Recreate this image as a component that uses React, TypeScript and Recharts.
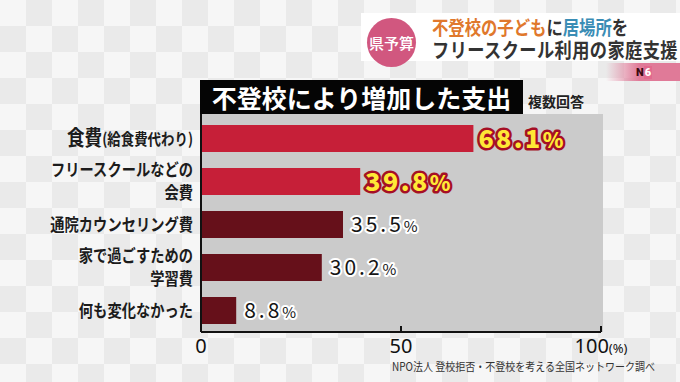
import { BarChart, Bar, XAxis, YAxis, Cell, LabelList } from 'recharts'

const categories = [
  '食費(給食費代わり)',
  'フリースクールなどの\n会費',
  '通院カウンセリング費',
  '家で過ごすための\n学習費',
  '何も変化なかった',
]
const values = [68.1, 39.8, 35.5, 30.2, 8.8]
const xTicks = [0, 50, 100]

const data = categories.map((name, i) => ({ name, value: values[i] }))

const FONT = '"Noto Sans CJK JP", "Noto Sans", sans-serif'
const HEAD_FONT = 'Roboto, "Noto Sans CJK JP", sans-serif'
const RED = '#c61f38'
const MAROON = '#66101a'
const barColor = (i: number) => (i < 2 ? RED : MAROON)

function CategoryTick({ x, y, payload }: any) {
  const lines = String(payload.value).split('\n')
  const lh = 23
  const y0 = -((lines.length - 1) * lh) / 2
  return (
    <g transform={`translate(${x},${y}) scale(0.84,1)`}>
      <text textAnchor="end" fontFamily={FONT} fontWeight={700} fontSize={17} fill="#1c1c1c">
        {lines.map((line, i) => {
          const m = line.match(/^(.*?)(\(.*\))$/)
          return (
            <tspan key={i} x={0} y={y0 + i * lh} dy="0.36em">
              {m ? (
                <>
                  <tspan fontSize={21}>{m[1]}</tspan>
                  <tspan fontSize={16}>{m[2]}</tspan>
                </>
              ) : (
                line
              )}
            </tspan>
          )
        })}
      </text>
    </g>
  )
}

function PercentTick({ x, y, payload }: any) {
  const v = payload.value
  return (
    <g>
      {v > 0 && <line x1={x} x2={x} y1={y} y2={y - 6} stroke="#111" strokeWidth={2} />}
      <text x={x} y={y + 14} dy="0.36em" textAnchor="middle" fontFamily='"Noto Sans", sans-serif' fontSize={20} fill="#111">
        {v}
        {v === 100 && <tspan fontSize={13}>(%)</tspan>}
      </text>
    </g>
  )
}

function ValueLabel(props: any) {
  const { x, y, width, height, value, index } = props
  const hi = index < 2
  return (
    <text
      x={x + width + (hi ? 5 : 8)}
      y={y + height / 2}
      dy="0.36em"
      fontFamily={FONT}
      fontSize={hi ? 25 : 21}
      fontWeight={hi ? 900 : 400}
      fill={hi ? '#ffe936' : '#151515'}
      stroke={hi ? '#a50f25' : '#ffffff'}
      strokeWidth={hi ? 5 : 4}
      strokeLinejoin="round"
      paintOrder="stroke"
      letterSpacing={hi ? 2.5 : 3}
    >
      {Number(value).toFixed(1)}
      <tspan fontSize={hi ? 21 : 15}>%</tspan>
    </text>
  )
}

export default function App() {
  return (
    <div
      style={{
        position: 'absolute',
        left: 0,
        top: 0,
        width: 680,
        height: 382,
        overflow: 'hidden',
        fontFamily: FONT,
        background: 'repeating-conic-gradient(#eaeaea 0% 25%, #f6f6f6 0% 50%) 0 0 / 52px 52px',
      }}
    >
      {/* header banner */}
      <div style={{ position: 'absolute', left: 361, top: 13, width: 319, height: 48, background: '#fff' }} />
      <div
        style={{
          position: 'absolute',
          left: 367,
          top: 18,
          width: 49,
          height: 49,
          borderRadius: '50%',
          background: '#d1577f',
          color: '#fff',
          fontSize: 15,
          fontWeight: 500,
          display: 'flex',
          alignItems: 'center',
          justifyContent: 'center',
        }}
      >
        県予算
      </div>
      <div
        style={{
          position: 'absolute',
          left: 432,
          top: 17,
          fontFamily: HEAD_FONT,
          fontSize: 19,
          fontWeight: 700,
          lineHeight: '23px',
          color: '#333',
          transform: 'scaleX(0.86)',
          transformOrigin: 'left top',
          whiteSpace: 'nowrap',
        }}
      >
        <div>
          <span style={{ color: '#e0782c' }}>不登校の子ども</span>に<span style={{ color: '#3a8db5' }}>居場所</span>を
        </div>
        <div style={{ fontSize: 20, letterSpacing: 0.5 }}>フリースクール利用の家庭支援</div>
      </div>
      <div
        style={{
          position: 'absolute',
          left: 606,
          top: 63,
          width: 74,
          height: 18,
          background: 'linear-gradient(to right, rgba(224,110,140,0), #e07a98 45%)',
        }}
      />
      <div
        style={{
          position: 'absolute',
          left: 636,
          top: 66,
          fontFamily: 'Roboto, sans-serif',
          fontSize: 11,
          fontWeight: 900,
          color: '#3a0a12',
          lineHeight: '13px',
        }}
      >
        N<span style={{ color: '#fff', background: '#e26a8e', padding: '0 1px' }}>6</span>
      </div>

      {/* plot background */}
      <div style={{ position: 'absolute', left: 200, top: 114, width: 401, height: 218, background: '#cbcbcb', borderLeft: '2px solid #111' }} />

      {/* title */}
      <div
        style={{
          position: 'absolute',
          left: 200,
          top: 80,
          width: 323,
          height: 34,
          background: '#050505',
          color: '#fff',
          fontSize: 25,
          fontWeight: 700,
          lineHeight: '34px',
          textAlign: 'center',
        }}
      >
        不登校により増加した支出
      </div>
      <div style={{ position: 'absolute', left: 528, top: 91, fontSize: 14, fontWeight: 700, color: '#222' }}>複数回答</div>

      <div style={{ position: 'absolute', left: 0, top: 0 }}>
        <BarChart width={680} height={382} data={data} layout="vertical" margin={{ top: 117, right: 79, bottom: 0, left: 0 }}>
          <XAxis
            type="number"
            domain={[0, 100]}
            ticks={xTicks}
            height={50}
            axisLine={{ stroke: '#111', strokeWidth: 2 }}
            tickLine={false}
            tickSize={0}
            tickMargin={0}
            tick={<PercentTick />}
            interval={0}
          />
          <YAxis
            type="category"
            dataKey="name"
            width={201}
            axisLine={{ stroke: '#111', strokeWidth: 2 }}
            tickLine={false}
            tick={<CategoryTick />}
            interval={0}
          />
          <Bar dataKey="value" barSize={27} isAnimationActive={false}>
            {data.map((d, i) => (
              <Cell key={d.name} fill={barColor(i)} />
            ))}
            <LabelList dataKey="value" content={(p: any) => <ValueLabel {...p} />} />
          </Bar>
        </BarChart>
      </div>

      <div
        style={{
          position: 'absolute',
          left: 392,
          top: 358,
          fontSize: 11.5,
          color: '#333',
          whiteSpace: 'nowrap',
          transform: 'scaleX(0.87)',
          transformOrigin: 'left top',
        }}
      >
        NPO法人 登校拒否・不登校を考える全国ネットワーク調べ
      </div>
    </div>
  )
}
